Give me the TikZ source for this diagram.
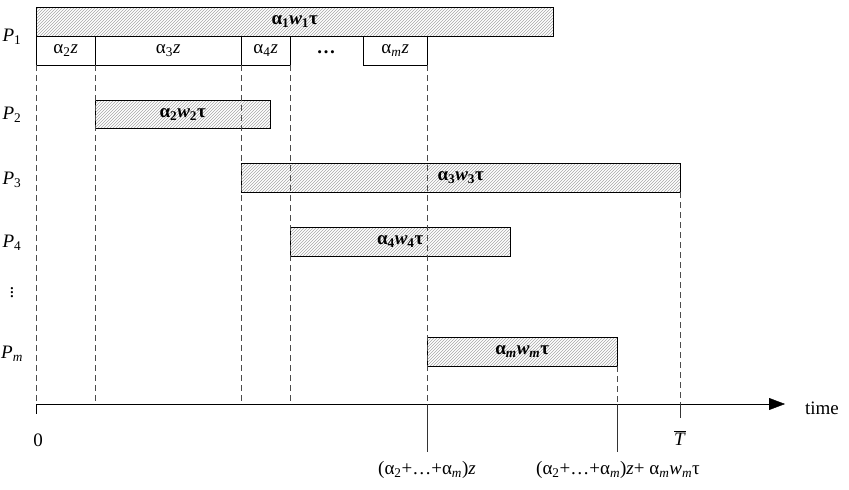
\documentclass[tikz,border=0pt]{standalone}
\usepackage{fontspec}
\setmainfont{Liberation Serif}
\usetikzlibrary{arrows.meta, patterns}

\begin{document}
\begin{tikzpicture}[x = 1pt, y = -1pt, font = \fontsize{19}{21}\selectfont]
\tikzstyle{TaskStyle}=[draw, anchor = north west, inner sep = 0pt,
                       pattern = north east lines, pattern color = gray!70,
                       font = \fontsize{19}{21}\selectfont\bfseries]
\tikzstyle{ZStyle}=[draw, anchor = north west, inner sep = 0pt,
                    minimum height = 29pt]
\tikzstyle{DashStyle}=[dash pattern = on 6pt off 4pt, gray!60!black]
\tikzstyle{MarkStyle}=[gray!40!black, thick]
\useasboundingbox (0,0) rectangle (849,490);
% processor labels
\node (p1) at (12,37) {\textit{P}\textsubscript{1}};
\node (p2) at (12,115) {\textit{P}\textsubscript{2}};
\node (p3) at (12,180) {\textit{P}\textsubscript{3}};
\node (p4) at (12,243) {\textit{P}\textsubscript{4}};
\node (pd) at (12,290) {$\vdots$};
\node (pm) at (12,354) {\textit{P}\textsubscript{\textit{m}}};
% tasks
\node[TaskStyle, minimum width = 517pt, minimum height = 29pt] (t1) at (36,7) {α\textsubscript{1}\textit{w}\textsubscript{1}τ};
\node[TaskStyle, minimum width = 175pt, minimum height = 28pt] (t2) at (95,100) {α\textsubscript{2}\textit{w}\textsubscript{2}τ};
\node[TaskStyle, minimum width = 439pt, minimum height = 29pt] (t3) at (241,163) {α\textsubscript{3}\textit{w}\textsubscript{3}τ};
\node[TaskStyle, minimum width = 220pt, minimum height = 29pt] (t4) at (290,227) {α\textsubscript{4}\textit{w}\textsubscript{4}τ};
\node[TaskStyle, minimum width = 190pt, minimum height = 29pt] (tm) at (427,337) {α\textsubscript{\textit{m}}\textit{w}\textsubscript{\textit{m}}τ};
% communication
\node[ZStyle, minimum width = 59pt] (z2) at (36,36) {α\textsubscript{2}\textit{z}};
\node[ZStyle, minimum width = 146pt] (z3) at (95,36) {α\textsubscript{3}\textit{z}};
\node[ZStyle, minimum width = 49pt] (z4) at (241,36) {α\textsubscript{4}\textit{z}};
\node (zd) at (326,52) {\textbf{…}};
\node[ZStyle, minimum width = 64pt] (zm) at (363,36) {α\textsubscript{\textit{m}}\textit{z}};
% time axis
\coordinate (a0) at (36,404);
\coordinate (a1) at (785,404);
\draw[-{Triangle[length=16pt, width=12pt]}] (a0) -- (a1);
\node (time) at (822,408) {time};
\draw (a0) -- ++(0,10);
\node (zero) at (38,440) {0};
% dashed guides
\draw[DashStyle] (z2.south west) -- (z2.south west |- a0);
\draw[DashStyle] (z3.south west) -- (z3.south west |- a0);
\draw[DashStyle] (z4.south west) -- (z4.south west |- a0);
\draw[DashStyle] (z4.south east) -- (z4.south east |- a0);
\draw[DashStyle] (zm.south east) -- (zm.south east |- a0);
\draw[DashStyle] (tm.south east) -- (tm.south east |- a0);
\draw[DashStyle] (t3.south east) -- (t3.south east |- a0);
% marks
\coordinate (e1) at (zm.south east |- a0);
\coordinate (e2) at (tm.south east |- a0);
\coordinate (e3) at (t3.south east |- a0);
\draw[MarkStyle] (e1) -- ++(0,48);
\draw[MarkStyle] (e2) -- ++(0,48);
\draw[MarkStyle] (e3) -- ++(0,14);
\node (tbar) at (680,438) {$\overline{\mbox{\textit{T}}}$};
\node (l1) at (427,470) {(α\textsubscript{2}+…+α\textsubscript{\textit{m}})\textit{z}};
\node (l2) at (618,470) {(α\textsubscript{2}+…+α\textsubscript{\textit{m}})\textit{z}+ α\textsubscript{\textit{m}}\textit{w}\textsubscript{\textit{m}}τ};
\end{tikzpicture}
\end{document}
